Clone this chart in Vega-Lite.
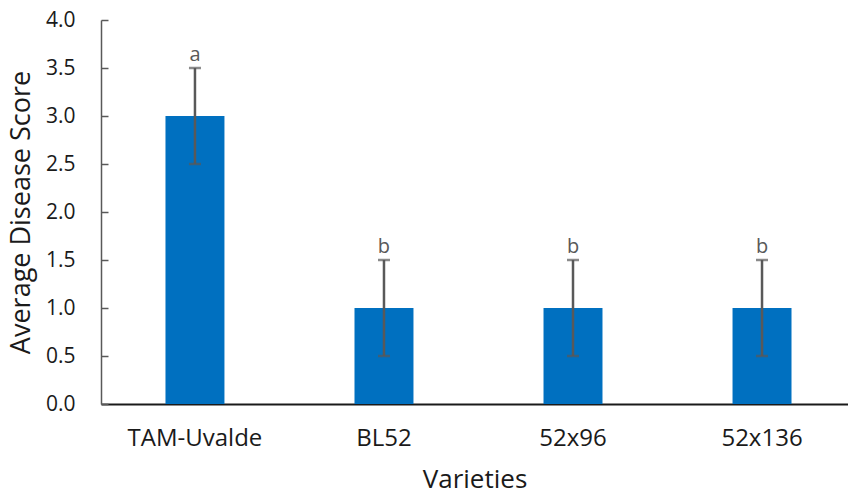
{
  "$schema": "https://vega.github.io/schema/vega-lite/v6.json",
  "autosize": {"type": "none"},
  "padding": {"left": 101, "top": 20, "right": 0, "bottom": 91},
  "width": 747,
  "height": 384,
  "background": "white",
  "config": {
    "view": {"stroke": null},
    "font": "Open Sans"
  },
  "data": {
    "values": [
      {"variety": "TAM-Uvalde", "score": 3.0, "low": 2.5, "high": 3.5, "group": "a"},
      {"variety": "BL52", "score": 1.0, "low": 0.5, "high": 1.5, "group": "b"},
      {"variety": "52x96", "score": 1.0, "low": 0.5, "high": 1.5, "group": "b"},
      {"variety": "52x136", "score": 1.0, "low": 0.5, "high": 1.5, "group": "b"}
    ]
  },
  "encoding": {
    "x": {
      "field": "variety",
      "type": "nominal",
      "sort": null,
      "scale": {"paddingInner": 0.688, "paddingOuter": 0.32, "align": 0.533},
      "axis": {
        "title": "Varieties",
        "titleFontSize": 26,
        "titleFontWeight": "normal",
        "titleColor": "#1a1a1a",
        "titlePadding": 16,
        "labelAngle": 0,
        "labelFontSize": 24,
        "labelColor": "#1a1a1a",
        "labelPadding": 22,
        "ticks": false,
        "domainColor": "#1a1a1a",
        "domainWidth": 2
      }
    }
  },
  "layer": [
    {
      "mark": {"type": "bar", "color": "#0070C0"},
      "encoding": {
        "y": {
          "field": "score",
          "type": "quantitative",
          "scale": {"domain": [0, 4]},
          "axis": {
            "title": "Average Disease Score",
            "titleFontSize": 27,
            "titleFontWeight": "normal",
            "titleColor": "#1a1a1a",
            "titlePadding": 10,
            "values": [0, 0.5, 1, 1.5, 2, 2.5, 3, 3.5, 4],
            "format": ".1f",
            "labelFontSize": 21,
            "labelColor": "#1a1a1a",
            "labelPadding": 33,
            "tickSize": -7,
            "tickColor": "#595959",
            "tickWidth": 1.5,
            "domainColor": "#595959",
            "domainWidth": 1.5,
            "grid": false
          }
        }
      }
    },
    {
      "mark": {"type": "rule", "color": "#595959", "strokeWidth": 2.5},
      "encoding": {
        "y": {"field": "low", "type": "quantitative"},
        "y2": {"field": "high"}
      }
    },
    {
      "mark": {"type": "tick", "color": "#595959", "thickness": 2.5, "size": 12, "orient": "horizontal"},
      "encoding": {"y": {"field": "high", "type": "quantitative"}}
    },
    {
      "mark": {"type": "tick", "color": "#595959", "thickness": 2.5, "size": 12, "orient": "horizontal"},
      "encoding": {"y": {"field": "low", "type": "quantitative"}}
    },
    {
      "mark": {"type": "text", "color": "#595959", "fontSize": 20, "baseline": "alphabetic", "dy": -7},
      "encoding": {
        "y": {"field": "high", "type": "quantitative"},
        "text": {"field": "group"}
      }
    }
  ]
}
